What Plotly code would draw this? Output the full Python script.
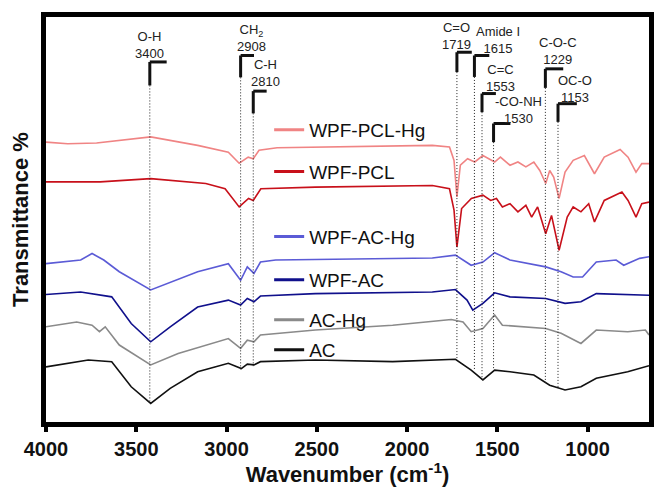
import plotly.graph_objects as go

# ---------------- data ----------------
series_names = ["WPF-PCL-Hg", "WPF-PCL", "WPF-AC-Hg", "WPF-AC", "AC-Hg", "AC"]
series_colors = ["#F08484", "#C8101A", "#5B5BD6", "#10108C", "#8A8A8A", "#111111"]

wn_pcl_hg = [4000, 3880, 3720, 3600, 3420, 3160, 2990, 2930, 2880, 2852, 2820, 2720, 1860, 1765, 1740, 1724,
             1705, 1665, 1625, 1580, 1515, 1483, 1430, 1386, 1342, 1298, 1265, 1232, 1210, 1188, 1158,
             1125, 1080, 1018, 962, 908, 820, 776, 732, 700, 660]
t_pcl_hg = [69.1, 68.7, 68.9, 69.5, 70.4, 68.3, 66.6, 63.9, 65.4, 65.0, 67.1, 67.7, 68.3, 67.9, 64.6, 55.6,
            63.4, 65.0, 64.2, 65.8, 64.2, 65.4, 63.4, 64.2, 63.0, 64.2, 62.1, 58.9, 62.1, 60.5, 55.2,
            61.7, 64.6, 65.8, 61.3, 65.4, 67.3, 65.4, 61.7, 63.8, 63.8]

wn_pcl = [4000, 3700, 3420, 3115, 3008, 2930, 2878, 2852, 2810, 2508, 1860, 1765, 1740, 1724, 1698,
          1644, 1580, 1537, 1505, 1472, 1430, 1386, 1342, 1310, 1277, 1232, 1200, 1158, 1113, 1080,
          1037, 994, 962, 908, 810, 776, 732, 700, 660]
t_pcl = [59.3, 59.3, 60.1, 58.9, 57.6, 53.1, 55.2, 54.7, 57.6, 58.0, 58.4, 57.6, 52.3, 43.2, 52.7,
         55.2, 56.0, 54.7, 55.2, 53.1, 53.9, 51.9, 53.5, 50.6, 53.1, 46.5, 51.0, 42.4, 50.6, 53.1,
         51.9, 53.9, 49.4, 54.7, 56.8, 54.7, 50.6, 53.9, 54.3]

wn_ac_hg_wpf = [4000, 3808, 3745, 3680, 3594, 3420, 3160, 2990, 2922, 2885, 2848, 2812, 2728, 1860,
                1732, 1645, 1580, 1515, 1430, 1232, 1147, 1080, 1028, 952, 842, 800, 712, 660]
t_ac_hg_wpf = [39.1, 40.0, 41.6, 40.0, 37.1, 32.6, 37.1, 39.1, 35.0, 38.3, 36.7, 39.5, 40.0, 40.5,
               41.2, 38.7, 39.5, 41.8, 40.0, 38.3, 37.1, 35.8, 35.8, 39.5, 40.0, 38.7, 40.4, 40.8]

wn_wpf_ac = [4000, 3808, 3636, 3528, 3420, 3312, 3160, 2990, 2922, 2885, 2848, 2812, 2508, 1860,
             1732, 1668, 1636, 1580, 1515, 1430, 1232, 1125, 1037, 952, 660]
t_wpf_ac = [31.5, 32.1, 30.9, 24.3, 19.8, 23.5, 28.4, 30.1, 28.9, 30.5, 29.7, 31.1, 31.7, 32.1,
            32.7, 30.1, 27.6, 29.3, 31.9, 30.9, 30.5, 29.3, 29.7, 31.7, 31.3]

wn_ac_hg = [4000, 3830, 3745, 3704, 3672, 3594, 3420, 3268, 2990, 2922, 2885, 2848, 2812, 2508, 2080,
            1755, 1690, 1645, 1580, 1515, 1472, 1232, 1147, 1037, 952, 778, 680, 660]
t_ac_hg = [23.5, 24.7, 23.9, 22.3, 23.5, 19.0, 14.1, 16.9, 20.6, 18.2, 20.2, 19.8, 21.5, 22.7, 23.9,
           25.3, 24.7, 22.3, 23.1, 26.4, 23.9, 23.1, 21.9, 19.4, 22.7, 22.3, 22.7, 21.5]

wn_ac = [4000, 3766, 3636, 3528, 3420, 3312, 3160, 2990, 2918, 2885, 2848, 2812, 2508, 2080, 1732,
         1645, 1580, 1515, 1430, 1298, 1210, 1125, 1037, 952, 778, 660]
t_ac = [13.6, 15.3, 14.9, 8.7, 4.6, 8.3, 12.4, 14.5, 13.2, 14.3, 14.1, 14.9, 15.3, 14.9, 15.5,
        12.8, 10.4, 12.8, 12.4, 11.6, 9.1, 7.9, 8.7, 10.8, 12.4, 13.9]

band_names = ["O-H", "CH<sub>2</sub>", "C-H", "C=O", "Amide I", "C=C", "-CO-NH", "C-O-C", "OC-O"]
band_labels = ["3400", "2908", "2810", "1719", "1615", "1553", "1530", "1229", "1153"]
band_wn = [3425, 2922, 2852, 1724, 1627, 1585, 1521, 1234, 1164]

x_ticks = [4000, 3500, 3000, 2500, 2000, 1500, 1000]

# ---------------- layout / style ----------------
W, H = 659, 487
M_L, M_R, M_T, M_B = 46, 5, 17, 65
plot_w = W - M_L - M_R
plot_h = H - M_T - M_B
X_RANGE = [4000, 660]
units_per_px = (X_RANGE[0] - X_RANGE[1]) / plot_w

bracket_top = [88.9, 90.5, 81.7, 91.3, 90.5, 81.1, 73.7, 87.2, 78.6]
bracket_bot = [83.1, 85.1, 76.2, 86.4, 85.2, 76.5, 69.1, 82.5, 74.1]
arm_px = [17, 13.5, 13.5, 15, 15, 14, 17, 18, 19]
dot_bottom = [4.7, 12.8, 13.8, 15.3, 12.8, 10.4, 12.8, 9.6, 8.4]
text_dx = [0, 11, 12, 0, 24, 18, 25, 13, 17]
text_y = [93.0, 94.7, 86.1, 95.2, 94.2, 85.0, 77.1, 91.6, 82.2]

legend_row_px = [130, 171.7, 236.7, 280, 320, 350]
legend_left_px = 271

FONT = "Arial, Liberation Sans, Helvetica, sans-serif"

fig = go.Figure()

xs = [wn_pcl_hg, wn_pcl, wn_ac_hg_wpf, wn_wpf_ac, wn_ac_hg, wn_ac]
ys = [t_pcl_hg, t_pcl, t_ac_hg_wpf, t_wpf_ac, t_ac_hg, t_ac]

legend_keys = ["legend"] + ["legend%d" % i for i in range(2, 7)]

for name, color, x, y, lk in zip(series_names, series_colors, xs, ys, legend_keys):
    fig.add_trace(go.Scatter(x=x, y=y, mode="lines", name=name,
                             line=dict(color=color, width=1.6),
                             showlegend=False, hoverinfo="skip"))
    # legend entry (empty trace, thicker sample line)
    fig.add_trace(go.Scatter(x=[None], y=[None], mode="lines", name=name,
                             line=dict(color=color, width=3),
                             legend=lk, showlegend=True))

shapes = []
annotations = []
for i, wn in enumerate(band_wn):
    shapes.append(dict(type="line", xref="x", yref="y", x0=wn, x1=wn,
                       y0=bracket_bot[i], y1=dot_bottom[i],
                       line=dict(color="#222", width=1, dash="1px,2px")))
    shapes.append(dict(type="line", xref="x", yref="y", x0=wn, x1=wn,
                       y0=bracket_top[i], y1=bracket_bot[i],
                       line=dict(color="#111", width=3)))
    shapes.append(dict(type="line", xref="x", yref="y", x0=wn,
                       x1=wn - arm_px[i] * units_per_px,
                       y0=bracket_top[i], y1=bracket_top[i],
                       line=dict(color="#111", width=3)))
    annotations.append(dict(x=wn, y=text_y[i], xref="x", yref="y",
                            text=band_names[i] + "<br>" + band_labels[i],
                            showarrow=False, xshift=text_dx[i],
                            xanchor="center", yanchor="middle", align="center",
                            font=dict(family=FONT, size=13, color="#222")))

layout_legends = {}
for lk, row in zip(legend_keys, legend_row_px):
    layout_legends[lk] = dict(
        x=(legend_left_px - M_L) / plot_w, y=(H - M_B - row) / plot_h,
        xanchor="left", yanchor="middle",
        bgcolor="rgba(0,0,0,0)", borderwidth=0,
        font=dict(family=FONT, size=19, color="#111"),
        itemwidth=30)

fig.update_layout(
    width=W, height=H,
    margin=dict(l=M_L, r=M_R, t=M_T, b=M_B, pad=0),
    paper_bgcolor="white", plot_bgcolor="white",
    shapes=shapes, annotations=annotations,
    **layout_legends,
    xaxis=dict(range=X_RANGE, tickvals=x_ticks, ticktext=[str(v) for v in x_ticks],
               ticks="outside", ticklen=5, tickwidth=4, tickcolor="black",
               showline=True, linewidth=5, linecolor="black", mirror=True,
               showgrid=False, zeroline=False,
               tickfont=dict(family=FONT, size=20, color="#111", weight="bold"),
               title=dict(text="Wavenumber (cm<sup>-1</sup>)", standoff=6,
                          font=dict(family=FONT, size=22, color="#111", weight="bold"))),
    yaxis=dict(range=[0, 100], showticklabels=False, ticks="",
               showline=True, linewidth=5, linecolor="black", mirror=True,
               showgrid=False, zeroline=False,
               title=dict(text="Transmittance %", standoff=8,
                          font=dict(family=FONT, size=22, color="#111", weight="bold"))),
)

fig.write_html("out.html", config={"displayModeBar": False},
               post_script="document.body.style.margin='0';document.body.style.overflow='hidden';")
